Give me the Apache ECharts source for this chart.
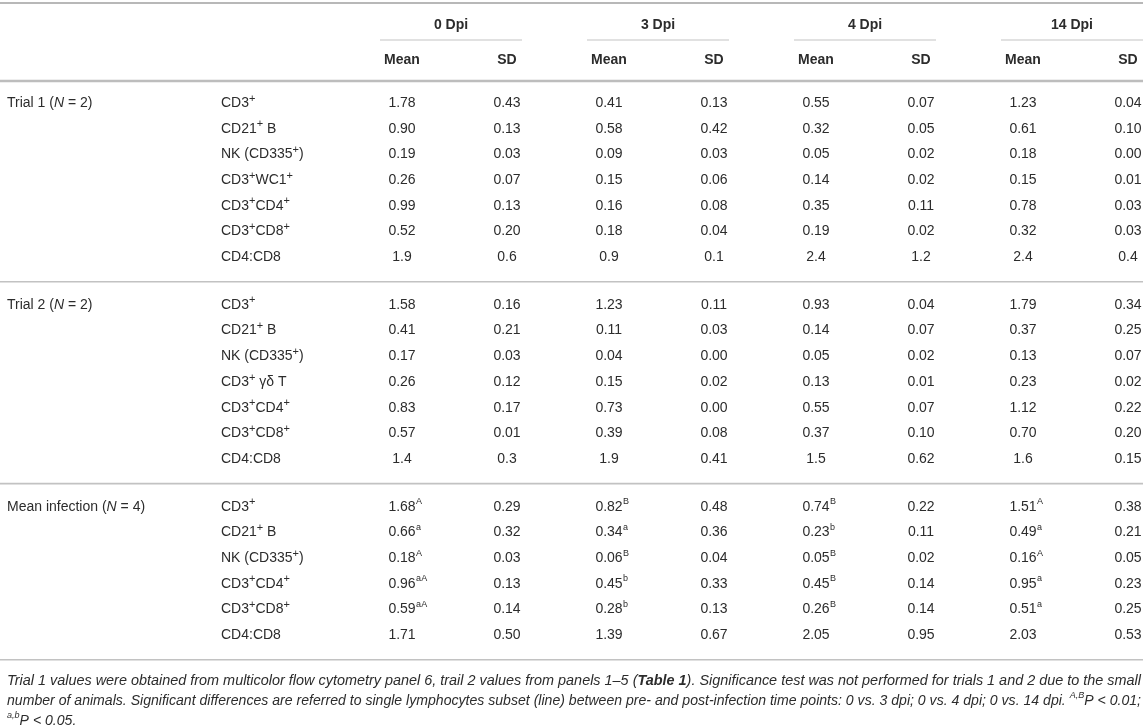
<!DOCTYPE html>
<html>
<head>
<meta charset="utf-8">
<title>Lymphocyte subsets</title>
<script src="https://cdn.jsdelivr.net/npm/echarts@6/dist/echarts.min.js"></script>
<style>
html,body{margin:0;padding:0;background:#fff;}
#main{width:1143px;height:727px;}
</style>
</head>
<body>
<div id="main"></div>
<script>
// 表头
var timePoints = ['0 Dpi', '3 Dpi', '4 Dpi', '14 Dpi'];
var statNames = ['Mean', 'SD'];
var groupNames = ['Trial 1 ({i|N} = 2)', 'Trial 2 ({i|N} = 2)', 'Mean infection ({i|N} = 4)'];

// Trial 1
var trial1Subsets = ['CD3{s|+}', 'CD21{s|+} B', 'NK (CD335{s|+})', 'CD3{s|+}WC1{s|+}', 'CD3{s|+}CD4{s|+}', 'CD3{s|+}CD8{s|+}', 'CD4:CD8'];
// mean0, sd0, mean3, sd3, mean4, sd4, mean14, sd14
var trial1Values = [
	['1.78', '0.43', '0.41', '0.13', '0.55', '0.07', '1.23', '0.04'],
	['0.90', '0.13', '0.58', '0.42', '0.32', '0.05', '0.61', '0.10'],
	['0.19', '0.03', '0.09', '0.03', '0.05', '0.02', '0.18', '0.00'],
	['0.26', '0.07', '0.15', '0.06', '0.14', '0.02', '0.15', '0.01'],
	['0.99', '0.13', '0.16', '0.08', '0.35', '0.11', '0.78', '0.03'],
	['0.52', '0.20', '0.18', '0.04', '0.19', '0.02', '0.32', '0.03'],
	['1.9', '0.6', '0.9', '0.1', '2.4', '1.2', '2.4', '0.4']
];

// Trial 2
var trial2Subsets = ['CD3{s|+}', 'CD21{s|+} B', 'NK (CD335{s|+})', 'CD3{s|+} γδ T', 'CD3{s|+}CD4{s|+}', 'CD3{s|+}CD8{s|+}', 'CD4:CD8'];
var trial2Values = [
	['1.58', '0.16', '1.23', '0.11', '0.93', '0.04', '1.79', '0.34'],
	['0.41', '0.21', '0.11', '0.03', '0.14', '0.07', '0.37', '0.25'],
	['0.17', '0.03', '0.04', '0.00', '0.05', '0.02', '0.13', '0.07'],
	['0.26', '0.12', '0.15', '0.02', '0.13', '0.01', '0.23', '0.02'],
	['0.83', '0.17', '0.73', '0.00', '0.55', '0.07', '1.12', '0.22'],
	['0.57', '0.01', '0.39', '0.08', '0.37', '0.10', '0.70', '0.20'],
	['1.4', '0.3', '1.9', '0.41', '1.5', '0.62', '1.6', '0.15']
];

// Mean infection
var meanSubsets = ['CD3{s|+}', 'CD21{s|+} B', 'NK (CD335{s|+})', 'CD3{s|+}CD4{s|+}', 'CD3{s|+}CD8{s|+}', 'CD4:CD8'];
var meanValues = [
	['1.68', '0.29', '0.82', '0.48', '0.74', '0.22', '1.51', '0.38'],
	['0.66', '0.32', '0.34', '0.36', '0.23', '0.11', '0.49', '0.21'],
	['0.18', '0.03', '0.06', '0.04', '0.05', '0.02', '0.16', '0.05'],
	['0.96', '0.13', '0.45', '0.33', '0.45', '0.14', '0.95', '0.23'],
	['0.59', '0.14', '0.28', '0.13', '0.26', '0.14', '0.51', '0.25'],
	['1.71', '0.50', '1.39', '0.67', '2.05', '0.95', '2.03', '0.53']
];
// 显著性标记 (0, 3, 4, 14 dpi)
var meanSig = [
	['A', 'B', 'B', 'A'],
	['a', 'a', 'b', 'a'],
	['A', 'B', 'B', 'A'],
	['aA', 'b', 'B', 'a'],
	['aA', 'b', 'B', 'a'],
	['', '', '', '']
];

// 布局
var W = 1143, H = 727;
var FONT = '"Liberation Sans", Arial, Helvetica, sans-serif';
var textColor = '#2c2c2c';
var bodySize = 14;
var rowTop = 103, rowPitch = 25.7, groupGap = 22;
var groupStart0 = 380, groupPitch = 207, groupWidth = 142;
var meanOffset = 22, sdOffset = 127;
var labelX = 7, subsetX = 221;

var measureCtx = document.createElement('canvas').getContext('2d');
function textWidth(t, font){
	measureCtx.font = font || (bodySize + 'px ' + FONT);
	return measureCtx.measureText(t).width;
}

function richStyles(size, weight, italic){
	var st = italic ? 'italic' : 'normal';
	return {
		s: {fontSize: 11, lineHeight: 14, verticalAlign: 'top', fontFamily: FONT, fill: textColor, fontWeight: weight, fontStyle: st},
		i: {fontSize: size, lineHeight: 20, fontStyle: 'italic', fontFamily: FONT, fill: textColor, fontWeight: weight},
		b: {fontSize: size, lineHeight: 20, fontStyle: 'italic', fontWeight: 'bold', fontFamily: FONT, fill: textColor}
	};
}

var groups = [
	{name: groupNames[0], subsets: trial1Subsets, values: trial1Values, sig: null},
	{name: groupNames[1], subsets: trial2Subsets, values: trial2Values, sig: null},
	{name: groupNames[2], subsets: meanSubsets, values: meanValues, sig: meanSig}
];

var cells = [];
var rules = [];

// 表头单元格
rules.push({x1: 0, x2: W, y: 3, w: 2, c: '#b8b8b8'});
timePoints.forEach(function(tp, ti){
	var start = groupStart0 + ti * groupPitch;
	cells.push({x: start + groupWidth / 2, y: 25, text: tp, align: 'center', bold: true});
	rules.push({x1: start, x2: Math.min(start + groupWidth, W), y: 40, w: 1.2, c: '#c4c4c4'});
	statNames.forEach(function(sn, si){
		cells.push({x: start + (si ? sdOffset : meanOffset), y: 60, text: sn, align: 'center', bold: true});
	});
});
rules.push({x1: 0, x2: W, y: 81, w: 2.5, c: '#bdbdbd'});

// 数据单元格
var rowIdx = 0;
groups.forEach(function(g, gi){
	var y;
	g.subsets.forEach(function(s, ri){
		y = rowTop + rowIdx * rowPitch + gi * groupGap;
		if(ri === 0){
			cells.push({x: labelX, y: y, text: g.name, align: 'left'});
		}
		cells.push({x: subsetX, y: y, text: s, align: 'left'});
		g.values[ri].forEach(function(v, ci){
			var tp = Math.floor(ci / 2), isSd = ci % 2;
			var x = groupStart0 + tp * groupPitch + (isSd ? sdOffset : meanOffset);
			cells.push({x: x, y: y, text: v, align: 'center'});
			if(!isSd && g.sig && g.sig[ri][tp]){
				cells.push({x: x + textWidth(v) / 2 + 0.5, y: y - 5, text: g.sig[ri][tp], align: 'left', sup: true});
			}
		});
		rowIdx++;
	});
	rules.push({x1: 0, x2: W, y: y + 24.5, w: 1.6, c: '#c2c2c2'});
});

// 注释
var notes = [
	'Trial 1 values were obtained from multicolor flow cytometry panel 6, trail 2 values from panels 1–5 ({b|Table 1}). Significance test was not performed for trials 1 and 2 due to the small',
	'number of animals. Significant differences are referred to single lymphocytes subset (line) between pre- and post-infection time points: 0 vs. 3 dpi; 0 vs. 4 dpi; 0 vs. 14 dpi. {s|A,B}P < 0.01;',
	'{s|a,b}P < 0.05.'
];
var noteTop = 681, notePitch = 20, noteSize = 14, noteRight = 1141;

// 注释行宽度（按片段测量）
function noteWidth(n){
	var w = 0;
	n.split(/(\{[sb]\|[^}]*\})/).forEach(function(part){
		if(!part) return;
		var m = part.match(/^\{([sb])\|([^}]*)\}$/);
		if(m && m[1] === 's') w += textWidth(m[2], 'italic 9px ' + FONT);
		else if(m) w += textWidth(m[2], 'italic bold ' + noteSize + 'px ' + FONT);
		else w += textWidth(part, 'italic ' + noteSize + 'px ' + FONT);
	});
	return w;
}
var noteScale = [];
notes.forEach(function(n, i){
	noteScale.push(i < 2 ? (noteRight - labelX) / noteWidth(n) : noteScale[1]);
});

var chart = echarts.init(document.getElementById('main'), null, {renderer: 'canvas'});

var option = {
	animation: false,
	backgroundColor: '#fff',
	grid: {left: 0, right: 0, top: 0, bottom: 0},
	xAxis: {type: 'value', min: 0, max: W, show: false},
	yAxis: {type: 'value', min: 0, max: H, inverse: true, show: false},
	graphic: notes.map(function(n, i){
		var rich = richStyles(noteSize, 'normal', true);
		rich.s.fontSize = 9;
		rich.s.lineHeight = 11;
		return {
			type: 'text',
			x: labelX,
			y: noteTop + i * notePitch,
			scaleX: noteScale[i],
			silent: true,
			style: {
				text: n,
				rich: rich,
				fill: textColor,
				fontFamily: FONT,
				fontSize: noteSize,
				fontStyle: 'italic',
				lineHeight: 20,
				align: 'left',
				verticalAlign: 'middle'
			}
		};
	}),
	series: [
		{
			// 表格线
			type: 'custom',
			silent: true,
			data: rules.map(function(r, i){ return [r.x1, r.x2, r.y, i]; }),
			renderItem: function(params, api){
				var r = rules[api.value(3)];
				var p1 = api.coord([api.value(0), api.value(2)]);
				var p2 = api.coord([api.value(1), api.value(2)]);
				return {
					type: 'line',
					shape: {x1: p1[0], y1: p1[1], x2: p2[0], y2: p2[1]},
					style: {stroke: r.c, lineWidth: r.w}
				};
			}
		},
		{
			// 文字
			type: 'custom',
			silent: true,
			data: cells.map(function(c, i){ return [c.x, c.y, i]; }),
			renderItem: function(params, api){
				var c = cells[api.value(2)];
				var p = api.coord([api.value(0), api.value(1)]);
				var weight = c.bold ? 'bold' : 'normal';
				return {
					type: 'text',
					x: p[0],
					y: p[1],
					style: {
						text: c.text,
						rich: richStyles(bodySize, weight, false),
						fill: textColor,
						fontFamily: FONT,
						fontSize: c.sup ? 9 : bodySize,
						fontWeight: weight,
						lineHeight: c.sup ? 10 : 20,
						align: c.align,
						verticalAlign: 'middle'
					}
				};
			}
		}
	]
};
chart.setOption(option);
</script>
</body>
</html>
